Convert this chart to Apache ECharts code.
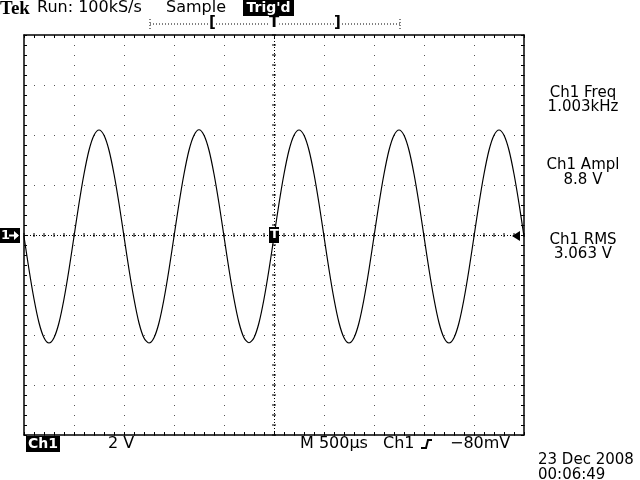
<!DOCTYPE html>
<html><head><meta charset="utf-8">
<script src="https://cdn.jsdelivr.net/npm/echarts@6/dist/echarts.min.js"></script>
<style>html,body{margin:0;padding:0;background:#fff}#c{width:640px;height:480px}</style>
</head><body><div id="c"></div>
<script>
// time samples (ms), 50 µs apart, 0 .. 5 ms (10 div x 500 µs)
const timesMs = [];
for (let i = 0; i <= 100; i++) timesMs.push(+(i * 0.05).toFixed(2));
// Ch1 voltage (V)
const ch1Volts = [
  -0.06,-1.38,-2.56,-3.51,-4.11,-4.32,-4.11,-3.51,-2.56,-1.38,
  -0.06, 1.26, 2.44, 3.39, 3.99, 4.20, 3.99, 3.39, 2.44, 1.26,
  -0.06,-1.38,-2.56,-3.52,-4.12,-4.32,-4.11,-3.51,-2.56,-1.38,
  -0.06, 1.26, 2.44, 3.39, 3.99, 4.21, 3.99, 3.39, 2.44, 1.26,
  -0.06,-1.38,-2.56,-3.51,-4.11,-4.31,-4.11,-3.51,-2.56,-1.38,
  -0.06, 1.26, 2.44, 3.39, 3.99, 4.20, 3.99, 3.39, 2.44, 1.26,
  -0.06,-1.38,-2.56,-3.51,-4.11,-4.32,-4.11,-3.51,-2.56,-1.38,
  -0.06, 1.26, 2.44, 3.39, 3.99, 4.20, 3.99, 3.39, 2.44, 1.26,
  -0.06,-1.38,-2.56,-3.51,-4.11,-4.32,-4.11,-3.51,-2.56,-1.38,
  -0.06, 1.26, 2.44, 3.39, 3.99, 4.20, 3.99, 3.39, 2.44, 1.26,
  -0.06
];
const headerTexts = ['Run: 100kS/s', 'Sample', "Trig'd"];
const measLabels = ['Ch1 Freq', 'Ch1 Ampl', 'Ch1 RMS'];
const measValues = ['1.003kHz', '8.8 V', '3.063 V'];
const bottomTexts = ['Ch1', '2 V', 'M 500µs', 'Ch1', '−80mV'];
const dateTexts = ['23 Dec 2008', '00:06:49'];

const X_MIN = 0, X_MAX = 5, X_INT = 0.5, X_CENTER = 2.5;
const Y_MIN = -8, Y_MAX = 8, Y_INT = 2;

const FONT = '"DejaVu Sans", "Liberation Sans", sans-serif';
const chart = echarts.init(document.getElementById('c'), null, {renderer: 'canvas'});

const lineData = timesMs.map((t, i) => [t, ch1Volts[i]]);
// graticule centre ticks
const xCenterTicks = [];
for (let v = X_MIN; v <= X_MAX + 1e-9; v += X_INT / 5) xCenterTicks.push(+v.toFixed(3));
const yCenterTicks = [];
for (let v = Y_MIN; v <= Y_MAX + 1e-9; v += Y_INT / 5) yCenterTicks.push(+v.toFixed(3));

const frameAxis = (extra) => Object.assign({
  type: 'value', min: X_MIN, max: X_MAX, interval: X_INT,
  axisLine: {show: true, onZero: false, lineStyle: {color: '#000', width: 1.5}},
  axisTick: {show: true, inside: true, length: 3, lineStyle: {color: '#000'}},
  minorTick: {show: true, splitNumber: 5, length: 3, lineStyle: {color: '#000'}},
  axisLabel: {show: false},
  splitLine: {show: false}
}, extra);

const txt = (x, y, s, o) => ({type: 'text', x: x, y: y, z: 50,
  style: Object.assign({text: s, font: '16px ' + FONT, fill: '#000', verticalAlign: 'top', align: 'left'}, o || {})});
const box = (x, y, w, h) => ({type: 'rect', shape: {x, y, width: w, height: h}, style: {fill: '#000'}, z: 40});
const F15 = '15px ' + FONT;

chart.setOption({
  animation: false,
  backgroundColor: '#fff',
  grid: {left: 24, top: 35, width: 500, height: 400, show: false},
  xAxis: [
    frameAxis({position: 'bottom',
      splitLine: {show: true, lineStyle: {color: '#555', width: 1, type: [1, 9]}}}),
    frameAxis({position: 'top'})
  ],
  yAxis: [
    frameAxis({position: 'left', min: Y_MIN, max: Y_MAX, interval: Y_INT,
      splitLine: {show: true, lineStyle: {color: '#555', width: 1, type: [1, 9]}}}),
    frameAxis({position: 'right', min: Y_MIN, max: Y_MAX, interval: Y_INT})
  ],
  series: [
    {
      type: 'line', data: lineData, xAxisIndex: 0, yAxisIndex: 0,
      showSymbol: false, smooth: 0.3, z: 10,
      lineStyle: {color: '#000', width: 1.2},
      markLine: {
        silent: true, symbol: 'none', label: {show: false},
        lineStyle: {color: '#000', width: 1, type: [1, 2]},
        data: [{xAxis: X_CENTER}, {yAxis: 0}]
      }
    },
    {
      type: 'custom', xAxisIndex: 0, yAxisIndex: 0, z: 5, silent: true,
      data: xCenterTicks.map(v => [v, 0]),
      renderItem: (p, api) => {
        const pt = api.coord([api.value(0), 0]);
        return {type: 'line', shape: {x1: pt[0], y1: pt[1] - 2, x2: pt[0], y2: pt[1] + 2},
          style: {stroke: '#000', lineWidth: 1}};
      }
    },
    {
      type: 'custom', xAxisIndex: 0, yAxisIndex: 0, z: 5, silent: true,
      data: yCenterTicks.map(v => [X_CENTER, v]),
      renderItem: (p, api) => {
        const pt = api.coord([X_CENTER, api.value(1)]);
        return {type: 'line', shape: {x1: pt[0] - 2, y1: pt[1], x2: pt[0] + 2, y2: pt[1]},
          style: {stroke: '#000', lineWidth: 1}};
      }
    }
  ],
  graphic: [
    txt(0, 0, 'Tek', {font: 'bold 19px "Liberation Serif", serif'}),
    txt(37, 0, headerTexts[0]),
    txt(166, 0, headerTexts[1]),
    box(243, 0, 51, 16),
    txt(268.5, 1, headerTexts[2], {fill: '#fff', font: 'bold 14px ' + FONT, align: 'center'}),
    // trigger position bar
    {type: 'line', shape: {x1: 150, y1: 24, x2: 400, y2: 24}, style: {stroke: '#000', lineDash: [1, 2], lineWidth: 1}},
    {type: 'line', shape: {x1: 150, y1: 19, x2: 150, y2: 30}, style: {stroke: '#000', lineDash: [1, 2], lineWidth: 1}},
    {type: 'line', shape: {x1: 400, y1: 19, x2: 400, y2: 30}, style: {stroke: '#000', lineDash: [1, 2], lineWidth: 1}},
    txt(209, 16, '[', {font: 'bold 15px ' + FONT, backgroundColor: '#fff'}),
    txt(269, 16, 'T', {font: 'bold 15px ' + FONT, backgroundColor: '#fff'}),
    txt(334, 16, ']', {font: 'bold 15px ' + FONT, backgroundColor: '#fff'}),
    // channel 1 ground marker
    box(0, 228, 20, 15),
    txt(1, 229, '1', {fill: '#fff', font: 'bold 13px ' + FONT}),
    {type: 'polyline', shape: {points: [[9, 235.5], [18, 235.5]]}, style: {stroke: '#fff', lineWidth: 2}, z: 45},
    {type: 'polygon', shape: {points: [[19, 235.5], [14, 231], [14, 240]]}, style: {fill: '#fff'}, z: 45},
    // trigger marker at centre
    box(269, 227, 10, 16),
    txt(270, 228, 'T', {fill: '#fff', font: 'bold 13px ' + FONT}),
    // trigger level arrow
    {type: 'polygon', shape: {points: [[512, 236], [520, 231], [520, 241]]}, style: {fill: '#000'}, z: 40},
    // right measurements
    txt(583, 86, measLabels[0], {align: 'center', font: F15}),
    txt(583, 100, measValues[0], {align: 'center', font: F15}),
    txt(583, 158, measLabels[1], {align: 'center', font: F15}),
    txt(583, 173, measValues[1], {align: 'center', font: F15}),
    txt(583, 233, measLabels[2], {align: 'center', font: F15}),
    txt(583, 247, measValues[2], {align: 'center', font: F15}),
    // bottom status
    box(26, 436, 34, 16),
    txt(43, 437, bottomTexts[0], {fill: '#fff', font: 'bold 14px ' + FONT, align: 'center'}),
    txt(108, 436, bottomTexts[1]),
    txt(300, 436, bottomTexts[2]),
    txt(383, 436, bottomTexts[3]),
    {type: 'polyline', shape: {points: [[421, 448], [426, 448], [428, 440], [432, 440]]}, style: {stroke: '#000', lineWidth: 2, fill: null}},
    txt(450, 436, bottomTexts[4]),
    txt(538, 453, dateTexts[0], {font: F15}),
    txt(538, 468, dateTexts[1], {font: F15})
  ]
});
</script></body></html>
